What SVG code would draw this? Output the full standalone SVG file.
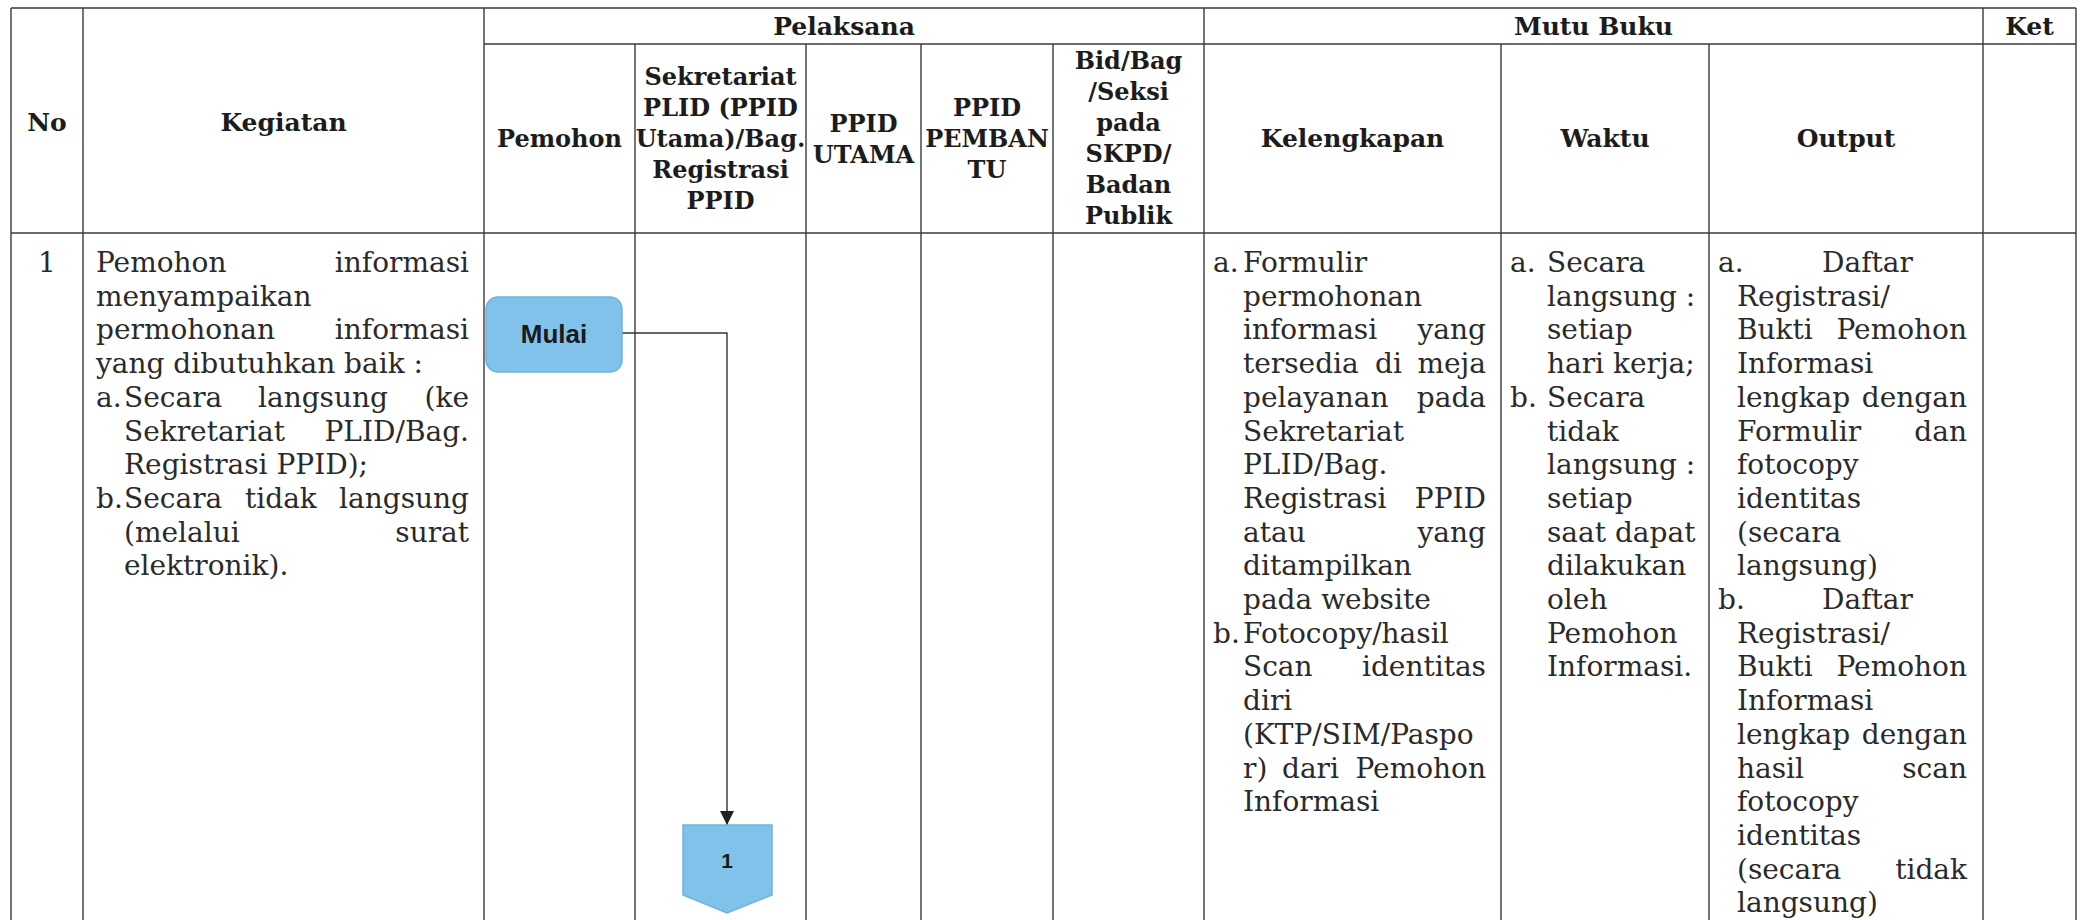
<svg xmlns="http://www.w3.org/2000/svg" width="2086" height="920" viewBox="0 0 2086 920">
<defs>
<style>
.grid{stroke:#3a3a3a;stroke-width:1.4;fill:none}
.h{font-family:"DejaVu Serif","Liberation Serif",serif;font-weight:bold;font-size:24px;fill:#1c1c1c;text-anchor:middle}
.hl{font-size:25px}
.b{font-family:"DejaVu Serif","Liberation Serif",serif;font-size:28px;fill:#2a2a2a}
.e{text-anchor:end}
.node{fill:#80c2e9;stroke:#6fb3de;stroke-width:1.5}
.lbl{font-family:"Liberation Sans","Open Sans",sans-serif;font-weight:bold;fill:#1a1a1a;text-anchor:middle}
.conn{stroke:#333;stroke-width:1.4;fill:none}
</style>
<marker id="arrow" markerWidth="16" markerHeight="14" refX="14" refY="7" orient="auto" markerUnits="userSpaceOnUse">
<path d="M0,0 L14,7 L0,14 Z" fill="#222"/>
</marker>
</defs>
<rect x="0" y="0" width="2086" height="920" fill="#ffffff"/>

<g id="table-grid" class="grid">
<line x1="11" y1="8" x2="2076" y2="8"/>
<line x1="484" y1="44" x2="2076" y2="44"/>
<line x1="11" y1="233" x2="2076" y2="233"/>
<line x1="11" y1="8" x2="11" y2="920"/>
<line x1="83" y1="8" x2="83" y2="920"/>
<line x1="484" y1="8" x2="484" y2="920"/>
<line x1="635" y1="44" x2="635" y2="920"/>
<line x1="806" y1="44" x2="806" y2="920"/>
<line x1="921" y1="44" x2="921" y2="920"/>
<line x1="1053" y1="44" x2="1053" y2="920"/>
<line x1="1204" y1="8" x2="1204" y2="920"/>
<line x1="1501" y1="44" x2="1501" y2="920"/>
<line x1="1709" y1="44" x2="1709" y2="920"/>
<line x1="1983" y1="8" x2="1983" y2="920"/>
<line x1="2076" y1="8" x2="2076" y2="920"/>
</g>

<g id="header">
<text class="h hl" x="47" y="131">No</text>
<text class="h hl" x="283.5" y="131">Kegiatan</text>
<text class="h hl" x="844" y="35">Pelaksana</text>
<text class="h hl" x="1593.5" y="35">Mutu Buku</text>
<text class="h hl" x="2029.5" y="35">Ket</text>
<text class="h" x="559.5" y="147">Pemohon</text>
<text class="h" x="720.5" y="85">Sekretariat</text>
<text class="h" x="720.5" y="116">PLID (PPID</text>
<text class="h" x="720.5" y="147">Utama)/Bag.</text>
<text class="h" x="720.5" y="178">Registrasi</text>
<text class="h" x="720.5" y="209">PPID</text>
<text class="h" x="863.5" y="132">PPID</text>
<text class="h" x="863.5" y="163">UTAMA</text>
<text class="h" x="987" y="116">PPID</text>
<text class="h" x="987" y="147">PEMBAN</text>
<text class="h" x="987" y="178">TU</text>
<text class="h" x="1128.5" y="69">Bid/Bag</text>
<text class="h" x="1128.5" y="100">/Seksi</text>
<text class="h" x="1128.5" y="131">pada</text>
<text class="h" x="1128.5" y="162">SKPD/</text>
<text class="h" x="1128.5" y="193">Badan</text>
<text class="h" x="1128.5" y="224">Publik</text>
<text class="h hl" x="1352.5" y="147">Kelengkapan</text>
<text class="h hl" x="1605" y="147">Waktu</text>
<text class="h hl" x="1846" y="147">Output</text>
</g>

<g id="col-no">
<text class="b" x="47" y="272" text-anchor="middle">1</text>
</g>

<g id="col-kegiatan" class="b">
<text x="96" y="272">Pemohon</text><text class="e" x="469" y="272">informasi</text>
<text x="96" y="305.7">menyampaikan</text>
<text x="96" y="339.4">permohonan</text><text class="e" x="469" y="339.4">informasi</text>
<text x="96" y="373.1">yang dibutuhkan baik :</text>
<text x="96" y="406.8">a.</text><text x="124" y="406.8">Secara</text><text x="258" y="406.8">langsung</text><text class="e" x="469" y="406.8">(ke</text>
<text x="124" y="440.5">Sekretariat</text><text class="e" x="469" y="440.5">PLID/Bag.</text>
<text x="124" y="474.2">Registrasi PPID);</text>
<text x="96" y="507.9">b.</text><text x="124" y="507.9">Secara</text><text x="245" y="507.9">tidak</text><text class="e" x="469" y="507.9">langsung</text>
<text x="124" y="541.6">(melalui</text><text class="e" x="469" y="541.6">surat</text>
<text x="124" y="575.3">elektronik).</text>
</g>

<g id="col-kelengkapan" class="b">
<text x="1213" y="272">a.</text><text x="1243" y="272">Formulir</text>
<text x="1243" y="305.7">permohonan</text>
<text x="1243" y="339.4">informasi</text><text class="e" x="1486" y="339.4">yang</text>
<text x="1243" y="373.1">tersedia</text><text x="1375" y="373.1">di</text><text class="e" x="1486" y="373.1">meja</text>
<text x="1243" y="406.8">pelayanan</text><text class="e" x="1486" y="406.8">pada</text>
<text x="1243" y="440.5">Sekretariat</text>
<text x="1243" y="474.2">PLID/Bag.</text>
<text x="1243" y="507.9">Registrasi</text><text class="e" x="1486" y="507.9">PPID</text>
<text x="1243" y="541.6">atau</text><text class="e" x="1486" y="541.6">yang</text>
<text x="1243" y="575.3">ditampilkan</text>
<text x="1243" y="609">pada website</text>
<text x="1213" y="642.7">b.</text><text x="1243" y="642.7">Fotocopy/hasil</text>
<text x="1243" y="676.4">Scan</text><text class="e" x="1486" y="676.4">identitas</text>
<text x="1243" y="710.1">diri</text>
<text x="1243" y="743.8">(KTP/SIM/Paspo</text>
<text x="1243" y="777.5">r)</text><text x="1282" y="777.5">dari</text><text class="e" x="1486" y="777.5">Pemohon</text>
<text x="1243" y="811.2">Informasi</text>
</g>

<g id="col-waktu" class="b">
<text x="1510" y="272">a.</text><text x="1547" y="272">Secara</text>
<text x="1547" y="305.7">langsung :</text>
<text x="1547" y="339.4">setiap</text>
<text x="1547" y="373.1">hari kerja;</text>
<text x="1510" y="406.8">b.</text><text x="1547" y="406.8">Secara</text>
<text x="1547" y="440.5">tidak</text>
<text x="1547" y="474.2">langsung :</text>
<text x="1547" y="507.9">setiap</text>
<text x="1547" y="541.6">saat dapat</text>
<text x="1547" y="575.3">dilakukan</text>
<text x="1547" y="609">oleh</text>
<text x="1547" y="642.7">Pemohon</text>
<text x="1547" y="676.4">Informasi.</text>
</g>

<g id="col-output" class="b">
<text x="1718" y="272">a.</text><text x="1822" y="272">Daftar</text>
<text x="1737" y="305.7">Registrasi/</text>
<text x="1737" y="339.4">Bukti</text><text class="e" x="1967" y="339.4">Pemohon</text>
<text x="1737" y="373.1">Informasi</text>
<text x="1737" y="406.8">lengkap</text><text class="e" x="1967" y="406.8">dengan</text>
<text x="1737" y="440.5">Formulir</text><text class="e" x="1967" y="440.5">dan</text>
<text x="1737" y="474.2">fotocopy</text>
<text x="1737" y="507.9">identitas</text>
<text x="1737" y="541.6">(secara</text>
<text x="1737" y="575.3">langsung)</text>
<text x="1718" y="609">b.</text><text x="1822" y="609">Daftar</text>
<text x="1737" y="642.7">Registrasi/</text>
<text x="1737" y="676.4">Bukti</text><text class="e" x="1967" y="676.4">Pemohon</text>
<text x="1737" y="710.1">Informasi</text>
<text x="1737" y="743.8">lengkap</text><text class="e" x="1967" y="743.8">dengan</text>
<text x="1737" y="777.5">hasil</text><text class="e" x="1967" y="777.5">scan</text>
<text x="1737" y="811.2">fotocopy</text>
<text x="1737" y="844.9">identitas</text>
<text x="1737" y="878.6">(secara</text><text class="e" x="1967" y="878.6">tidak</text>
<text x="1737" y="912.3">langsung)</text>
</g>

<g id="connectors">
<path class="conn" d="M622,333 H727 V825" marker-end="url(#arrow)"/>
</g>

<g id="node-mulai">
<rect class="node" x="486" y="297" width="136" height="75" rx="12" ry="12"/>
<text class="lbl" x="554" y="343" font-size="26">Mulai</text>
</g>

<g id="node-1">
<path class="node" d="M683,825 H772 V895 L727,913 L683,895 Z"/>
<text class="lbl" x="727" y="868" font-size="21">1</text>
</g>
</svg>
